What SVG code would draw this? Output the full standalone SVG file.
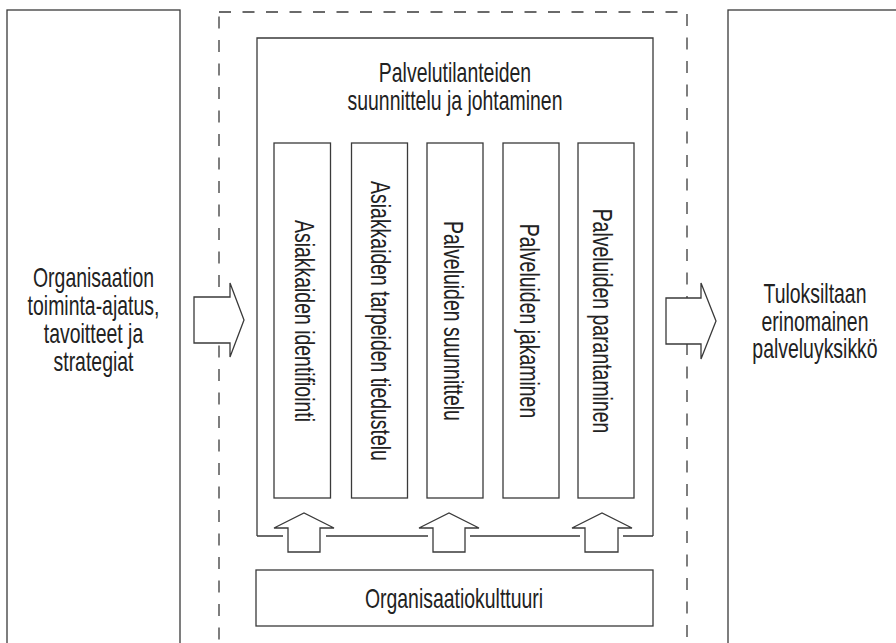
<svg xmlns="http://www.w3.org/2000/svg" width="896" height="643" viewBox="0 0 896 643">
  <style>
    .box { fill: none; stroke: #3a3a3a; stroke-width: 1.3; }
    .dash { fill: none; stroke: #3a3a3a; stroke-width: 1.3; stroke-dasharray: 12 11.5; }
    .arrow { fill: #ffffff; stroke: #3a3a3a; stroke-width: 1.3; stroke-linejoin: miter; }
    .lbl { font-family: "Liberation Sans", Arial, sans-serif; font-size: 27px; fill: #222222; text-anchor: middle; }
  </style>
  <rect width="896" height="643" fill="#ffffff"/>

  <!-- left input box -->
  <g id="strategy">
    <rect class="box" x="7" y="10" width="173" height="660"/>
    <g transform="translate(93.5,0) scale(0.72,1)">
      <text class="lbl" x="0" y="287">Organisaation</text>
      <text class="lbl" x="0" y="315">toiminta-ajatus,</text>
      <text class="lbl" x="0" y="343">tavoitteet ja</text>
      <text class="lbl" x="0" y="371">strategiat</text>
    </g>
  </g>

  <!-- dashed system boundary -->
  <g id="boundary">
    <rect class="dash" x="219" y="12" width="468" height="680"/>
  </g>

  <!-- service situation management -->
  <g id="management">
    <path class="box" d="M257,536 V38 H653 V536"/>
    <path class="box" d="M257,536 H283 M326,536 H428 M470,536 H580 M623,536 H653"/>
    <g transform="translate(455,0) scale(0.72,1)">
      <text class="lbl" x="0" y="82">Palvelutilanteiden</text>
      <text class="lbl" x="0" y="110">suunnittelu ja johtaminen</text>
    </g>
  </g>

  <g id="col-identify">
    <rect class="box" x="274" y="143" width="56.5" height="355"/>
    <text class="lbl" transform="translate(295,321) rotate(90) scale(0.72,1)">Asiakkaiden identifiointi</text>
  </g>
  <g id="col-needs">
    <rect class="box" x="351.5" y="143" width="56" height="355"/>
    <text class="lbl" transform="translate(371,321) rotate(90) scale(0.72,1)">Asiakkaiden tarpeiden tiedustelu</text>
  </g>
  <g id="col-design">
    <rect class="box" x="427" y="143" width="56" height="355"/>
    <text class="lbl" transform="translate(444,321) rotate(90) scale(0.72,1)">Palveluiden suunnittelu</text>
  </g>
  <g id="col-delivery">
    <rect class="box" x="503" y="143" width="56" height="355"/>
    <text class="lbl" transform="translate(520,321) rotate(90) scale(0.72,1)">Palveluiden jakaminen</text>
  </g>
  <g id="col-improve">
    <rect class="box" x="578" y="143" width="56" height="355"/>
    <text class="lbl" transform="translate(593,321) rotate(90) scale(0.72,1)">Palveluiden parantaminen</text>
  </g>

  <!-- organisational culture -->
  <g id="culture">
    <rect class="box" x="256" y="570" width="397" height="56"/>
    <g transform="translate(454,0) scale(0.72,1)">
      <text class="lbl" x="0" y="608">Organisaatiokulttuuri</text>
    </g>
  </g>

  <!-- right outcome box -->
  <g id="outcome">
    <rect class="box" x="728" y="10" width="180" height="660"/>
    <g transform="translate(815,0) scale(0.72,1)">
      <text class="lbl" x="0" y="303">Tuloksiltaan</text>
      <text class="lbl" x="0" y="331">erinomainen</text>
      <text class="lbl" x="0" y="358">palveluyksikkö</text>
    </g>
  </g>

  <!-- block arrows -->
  <g id="connectors">
    <polygon class="arrow" points="194,297 230,297 230,283 244,320 230,357 230,343 194,343"/>
    <polygon class="arrow" points="666,298 701,298 701,283 716,321 701,359 701,344 666,344"/>
    <polygon class="arrow" points="288,552 288,528 274,528 304,513 334,528 320,528 320,552"/>
    <polygon class="arrow" points="433,552 433,528 419,528 449,513 479,528 465,528 465,552"/>
    <polygon class="arrow" points="585,552 585,528 572,528 602,513 632,528 618,528 618,552"/>
  </g>
</svg>
